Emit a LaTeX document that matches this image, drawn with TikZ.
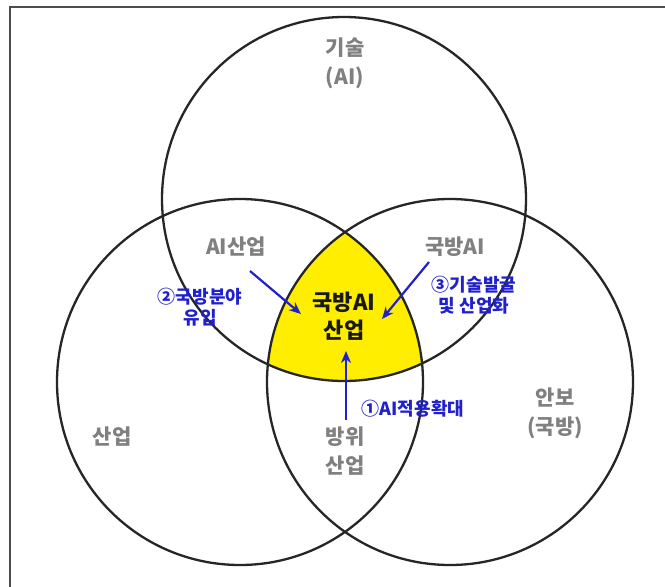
\documentclass[tikz,border=0pt]{standalone}
\usepackage{fontspec}
\setmainfont{Noto Sans CJK KR}
\usetikzlibrary{arrows.meta}
\definecolor{lbl}{HTML}{808080}
\definecolor{arr}{HTML}{2020CC}
\definecolor{ylw}{HTML}{FFEE00}
\tikzset{
  ring/.style={draw=black!85, line width=2.3pt},
  grey/.style={text=lbl, font=\fontsize{21}{29}\selectfont\bfseries, align=center, inner sep=0pt},
  core/.style={text=black!90, font=\fontsize{22}{28}\selectfont\bfseries, align=center, inner sep=0pt},
  note/.style={text=arr, font=\fontsize{18}{21}\selectfont\bfseries, align=center, inner sep=0pt},
  pointer/.style={draw=arr, line width=2.2pt, -{Stealth[length=12pt,width=10pt]}}
}
\begin{document}
\begin{tikzpicture}[x=1pt,y=-1pt]
\useasboundingbox (0,0) rectangle (665,587);
\fill[white] (0,0) rectangle (665,587);
% frame
\draw[black!70, line width=1.8pt] (10,587) -- (10,7) -- (665,7);
% circle centres
\coordinate (ct) at (344,199);
\coordinate (cl) at (240,382);
\coordinate (cr) at (450,382);
% yellow core
\begin{scope}
  \clip (ct) circle (182);
  \clip (cl) circle (183);
  \fill[ylw] (cr) circle (183);
\end{scope}
\draw[ring] (ct) circle (182);
\draw[ring] (cl) circle (183);
\draw[ring] (cr) circle (183);
% labels
\node[grey] (tech) at (345,63) {기술\\(AI)};
\node[grey] (aiind) at (236,247) {AI산업};
\node[grey] (defai) at (455,247) {국방AI};
\node[grey] (ind) at (112,437) {산업};
\node[grey] (sec) at (555,413) {안보\\(국방)};
\node[grey] (defind) at (345,451) {방위\\산업};
\node[core] (center) at (344,316) {국방AI\\산업};
\node[note] (n2) at (200,307) {②국방분야\\유입};
\node[note] (n3) at (474,295) {③기술발굴\\및 산업화};
\node[note] (n1) at (413,409) {①AI적용확대};
% arrows
\coordinate (a2s) at (250,271);
\coordinate (a2e) at (301,314);
\coordinate (a3s) at (429,262);
\coordinate (a3e) at (382,319);
\coordinate (a1s) at (346,420);
\coordinate (a1e) at (346,351);
\draw[pointer] (a2s) -- (a2e);
\draw[pointer] (a3s) -- (a3e);
\draw[pointer] (a1s) -- (a1e);
\end{tikzpicture}
\end{document}
